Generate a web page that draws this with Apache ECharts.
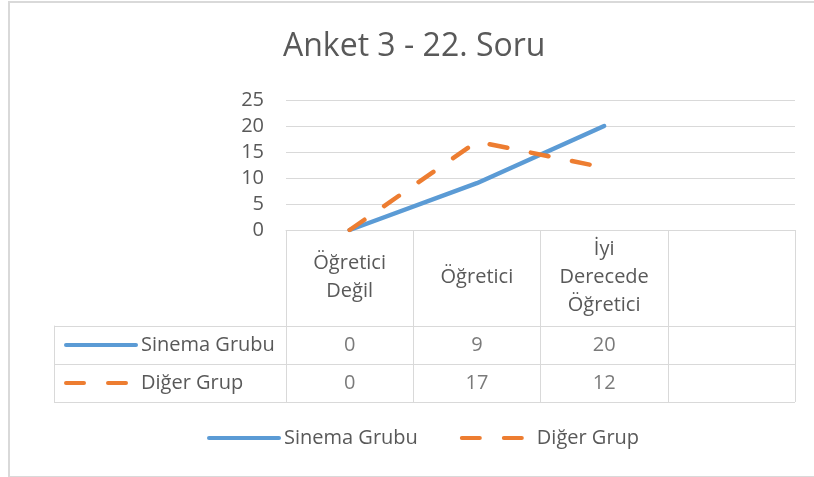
<!DOCTYPE html>
<html>
<head>
<meta charset="utf-8">
<script src="https://cdn.jsdelivr.net/npm/echarts@6/dist/echarts.min.js"></script>
<style>
  body { margin: 0; background: #fff; }
  #frame { position: absolute; left: 8px; top: 1px; width: 820px; height: 473px; border: 2px solid #d9d9d9; box-sizing: content-box; }
  #chart { position: absolute; left: 0; top: 0; width: 814px; height: 477px; }
</style>
</head>
<body>
<div id="frame"></div>
<div id="chart"></div>
<script>
// veriler
var categories = ['Öğretici\nDeğil', 'Öğretici', 'İyi\nDerecede\nÖğretici', ''];
var seriesNames = ['Sinema Grubu', 'Diğer Grup'];
var sinemaValues = [0, 9, 20];
var digerValues = [0, 17, 12];
var yTicks = [0, 5, 10, 15, 20, 25];

var textColor = '#595959';
var lineColor = '#d9d9d9';
var font = 'Open Sans';

// tablo hücreleri: [kolon, satır, değer]
var tableCells = [];
[sinemaValues, digerValues].forEach(function (vals, row) {
    vals.forEach(function (v, col) {
        tableCells.push([col, row, v]);
    });
});

var myChart = echarts.init(document.getElementById('chart'));

var dashStyle = [18, 24];

// legend ortak ayarlar
function legendOpt(names, left, top, gap) {
    return {
        data: names,
        left: left, top: top,
        padding: 0,
        itemWidth: 70, itemHeight: 20, itemGap: gap,
        selectedMode: false,
        itemStyle: { color: 'rgba(0,0,0,0)', borderWidth: 0, opacity: 0 },
        lineStyle: { width: 4, cap: 'round' },
        textStyle: { fontFamily: font, fontSize: 20, color: textColor, lineHeight: 20 }
    };
}

var option = {
    animation: false,
    title: {
        text: 'Anket 3 - 22. Soru',
        left: 283,
        top: 31,
        padding: 0,
        textStyle: { fontFamily: font, fontSize: 32, fontWeight: 'normal', color: textColor }
    },
    grid: [
        { left: 286, right: 19, top: 100, height: 130 },   // grafik
        { left: 286, right: 19, top: 326, height: 76 }     // veri tablosu
    ],
    legend: [
        legendOpt(seriesNames, 207, 428, 42),      // alt legend
        legendOpt([seriesNames[0]], 64, 335, 10),  // tablo satırı 1
        legendOpt([seriesNames[1]], 64, 373, 10)   // tablo satırı 2
    ],
    xAxis: [
        {
            gridIndex: 0,
            type: 'category',
            data: categories,
            boundaryGap: true,
            axisLine: { show: true, lineStyle: { color: lineColor, width: 1 } },
            axisTick: { show: true, length: 96, lineStyle: { color: lineColor, width: 1 } },
            splitLine: { show: false },
            axisLabel: {
                interval: 0,
                margin: 47,
                verticalAlign: 'middle',
                lineHeight: 28,
                fontFamily: font, fontSize: 20, color: textColor
            }
        },
        {
            gridIndex: 1,
            type: 'category',
            data: categories,
            boundaryGap: true,
            axisLine: { show: false },
            axisTick: { show: false },
            axisLabel: { show: false },
            splitLine: { show: true, interval: 0, lineStyle: { color: lineColor, width: 1 } }
        }
    ],
    yAxis: [
        {
            gridIndex: 0,
            type: 'value',
            min: 0, max: 25, interval: 5,
            axisLine: { show: false },
            axisTick: { show: false },
            axisLabel: { margin: 22, fontFamily: font, fontSize: 20, color: textColor },
            splitLine: { show: true, lineStyle: { color: lineColor, width: 1 } }
        },
        {
            gridIndex: 1,
            type: 'category',
            data: seriesNames,
            inverse: true,
            boundaryGap: true,
            axisLine: { show: true, lineStyle: { color: lineColor, width: 1 } },
            axisTick: { show: true, length: 232, lineStyle: { color: lineColor, width: 1 } },
            axisLabel: { show: false },
            splitLine: { show: true, interval: 0, lineStyle: { color: lineColor, width: 1 } }
        },
        {   // tablonun sol kenarı
            gridIndex: 1,
            type: 'value',
            position: 'left',
            offset: 232,
            axisLine: { show: true, lineStyle: { color: lineColor, width: 1 } },
            axisTick: { show: false },
            axisLabel: { show: false },
            splitLine: { show: false }
        }
    ],
    series: [
        {
            name: seriesNames[0],
            type: 'line',
            xAxisIndex: 0, yAxisIndex: 0,
            data: sinemaValues,
            symbol: 'none',
            color: '#5b9bd5',
            lineStyle: { width: 4.5, color: '#5b9bd5', cap: 'round', join: 'round' }
        },
        {
            name: seriesNames[1],
            type: 'line',
            xAxisIndex: 0, yAxisIndex: 0,
            data: digerValues,
            symbol: 'none',
            color: '#ed7d31',
            lineStyle: { width: 4.5, color: '#ed7d31', type: dashStyle, cap: 'round', join: 'round' }
        },
        {
            name: 'tablo',
            type: 'scatter',
            xAxisIndex: 1, yAxisIndex: 1,
            data: tableCells,
            encode: { x: 0, y: 1 },
            symbolSize: 1,
            itemStyle: { color: 'rgba(0,0,0,0)' },
            silent: true,
            label: {
                show: true,
                position: 'inside',
                formatter: function (p) { return p.value[2]; },
                fontFamily: font, fontSize: 20, color: textColor
            }
        }
    ]
};

myChart.setOption(option);
</script>
</body>
</html>
